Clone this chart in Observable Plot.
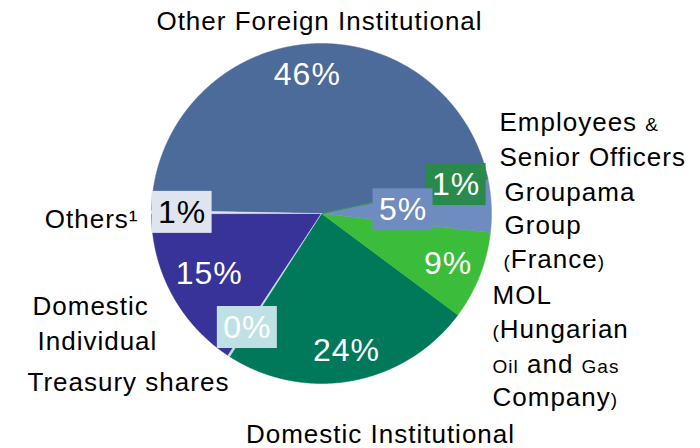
<!DOCTYPE html>
<html><head><meta charset="utf-8">
<script src="https://cdn.jsdelivr.net/npm/d3@7"></script>
<script src="https://cdn.jsdelivr.net/npm/@observablehq/plot@0.6"></script>
<style>
html,body{margin:0;padding:0;background:#fff;}
#chart svg{display:block;}
#chart text{letter-spacing:1px;}
</style></head><body><div id="chart"></div>
<script>
// ---- data ----
const categories = ["Other Foreign Institutional","Employees & Senior Officers","Groupama Group (France)","MOL (Hungarian Oil and Gas Company)","Domestic Institutional","Treasury shares","Domestic Individual","Others"];
const shares = [46.2, 0.3, 5.0, 8.4, 23.9, 0.2, 15.7, 0.3];
const shareLabels = ["46%","1%","5%","9%","24%","0%","15%","1%"];

// ---- styles ----
const sliceColors = ["#4c6a9a","#2a8a4b","#6f8cc0","#3bbd3b","#00785a","#bfe1e5","#373398","#dfe4ef"];
const labelColors = ["#fff","#fff","#fff","#fff","#fff","#fff","#fff","#000"];
const boxColors = [null,"#2a8a4b","#6f8cc0",null,null,"#bfe1e5",null,"#dfe4ef"];
const labelRadius = [0.82,0.81,0.48,0.80,0.82,0.80,0.75,0.82];
const startDeg = -89;
const font = "Liberation Sans, Arial, sans-serif";

// ---- layout of category names (pixel anchor, baseline) ----
const W = 700, H = 448, cx = 321, cy = 213, R = 170;
const nameLines = [
  ["Other Foreign Institutional","middle",319,29],
  ["Employees {&}","start",499,130],
  ["Senior Officers","start",499,165],
  ["Groupama","start",504,200],
  ["Group","start",504,233],
  ["{(}France{)}","start",503,267],
  ["MOL","start",492,303],
  ["{(}Hungarian","start",492,337],
  ["{Oil} and {Gas}","start",492,372],
  ["Company{)}","start",492,405],
  ["Domestic Institutional","middle",380,442],
  ["Treasury shares","start",27,390],
  ["Domestic","start",32,314],
  ["Individual","start",37,349],
  ["Others\u00b9","end",138,227]
];

const a0 = startDeg * Math.PI / 180;
const arcs = d3.pie().sort(null).startAngle(a0).endAngle(a0 + 2 * Math.PI)(shares);

const slicePts = arcs.map((a, i) => {
  const pts = [{x: 0, y: 0}];
  const n = Math.max(2, Math.ceil((a.endAngle - a.startAngle) / (Math.PI / 720)));
  for (let k = 0; k <= n; k++) {
    const t = a.startAngle + (a.endAngle - a.startAngle) * k / n;
    pts.push({x: Math.sin(t), y: Math.cos(t)});
  }
  pts.push({x: 0, y: 0});
  return pts;
});

const labels = arcs.map((a, i) => {
  const m = (a.startAngle + a.endAngle) / 2;
  return {x: labelRadius[i] * Math.sin(m), y: labelRadius[i] * Math.cos(m), text: shareLabels[i], color: labelColors[i], box: boxColors[i]};
});

const drawOrder = d3.range(shares.length).sort((i, j) => shares[j] - shares[i]);

const toX = d => (d[2] - cx) / R;
const toY = d => (cy - d[3]) / R;

const plot = Plot.plot({
  width: W, height: H,
  marginLeft: cx - R, marginRight: W - (cx + R), marginTop: cy - R, marginBottom: H - (cy + R),
  x: {domain: [-1, 1], axis: null},
  y: {domain: [-1, 1], axis: null},
  style: {fontFamily: font, background: "#fff"},
  marks: [
    ...drawOrder.map(i => Plot.line(slicePts[i], {x: "x", y: "y", fill: sliceColors[i], stroke: sliceColors[i], strokeWidth: 0.5, curve: "linear"})),
    Plot.rect(labels.filter(d => d.box), {x1: "x", x2: "x", y1: "y", y2: "y", fill: "box", insetLeft: -30, insetRight: -30, insetTop: -21, insetBottom: -21}),
    Plot.text(labels, {x: "x", y: "y", text: "text", fill: "color", fontSize: 32, fontFamily: font, lineAnchor: "middle"}),
    ...["start", "middle", "end"].map(anchor =>
      Plot.text(nameLines.filter(d => d[1] === anchor), {x: toX, y: toY, text: d => d[0], textAnchor: anchor, lineAnchor: "bottom", fontSize: 26, fontFamily: font, fill: "#000"}))
  ]
});

// small segments marked with {…}
d3.select(plot).selectAll("text").each(function () {
  const s = this.textContent;
  if (!s.includes("{")) return;
  this.textContent = "";
  const re = /\{([^}]*)\}|([^{]+)/g;
  let m;
  while ((m = re.exec(s))) {
    const ts = document.createElementNS("http://www.w3.org/2000/svg", "tspan");
    if (m[1] !== undefined) { ts.textContent = m[1]; ts.setAttribute("font-size", "19px"); }
    else ts.textContent = m[2];
    this.appendChild(ts);
  }
});

document.getElementById("chart").appendChild(plot);
</script></body></html>
